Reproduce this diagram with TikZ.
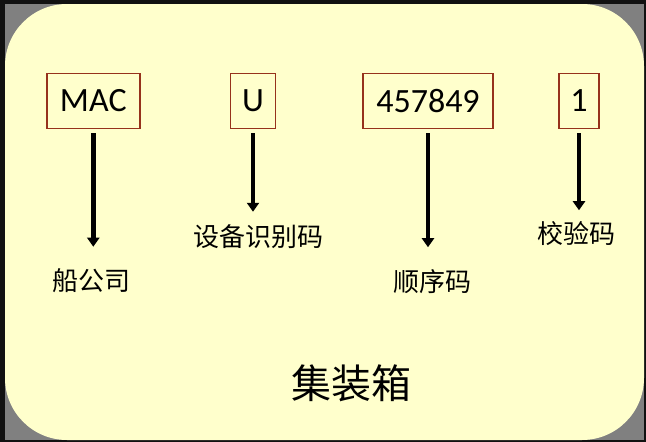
\documentclass[tikz,border=0pt]{standalone}
\usepackage{fontspec}
\setsansfont{Carlito}
\newfontfamily\cjkfont{Noto Sans CJK SC}
\usetikzlibrary{
  positioning,
  arrows.meta}
\definecolor{framecolor}{RGB}{17,17,17}
\definecolor{backcolor}{RGB}{128,128,128}
\definecolor{cardcolor}{RGB}{255,255,204}
\definecolor{codecolor}{RGB}{150,50,28}
\tikzset{
  %% codebox : one part of the container number
  codebox/.style={
    rectangle,
    draw=codecolor,
    line width=1.6pt,
    fill=cardcolor,
    minimum height=55pt,
    inner xsep=8pt,
    font=\sffamily\fontsize{34}{36}\selectfont,
    align=center
  },
  %% meaning : what the part stands for
  meaning/.style={
    inner sep=0pt,
    font=\cjkfont\fontsize{26}{28}\selectfont,
    align=center
  },
  %% pointer : arrow from the code to its meaning
  pointer/.style={
    line width=4.5pt,
    shorten <=4pt,
    -{Triangle[width=12pt,length=9pt]}
  }
}
\begin{document}
\begin{tikzpicture}
  [x=1pt,
  y=-1pt]
  \useasboundingbox (0,0) rectangle (646,442);

  %% Frame and card
  \fill [framecolor] (0,0) rectangle (646,442);
  \fill [backcolor] (5,4) rectangle (644,440);
  \fill [cardcolor, rounded corners=62pt] (5,4) rectangle (644,440);

  %% Code boxes
  \node (mac) [codebox, minimum width=93pt] at (93.3,100.8) {MAC};
  \node (u) [codebox, minimum width=45pt] at (253,100.8) {U};
  \node (serial) [codebox, minimum width=130pt] at (428,100.8) {457849};
  \node (check) [codebox, minimum width=40pt] at (579,100.8) {1};

  %% Meanings
  \node (owner) [meaning] at (91.5,281) {船公司};
  \node (category) [meaning] at (258,237) {设备识别码};
  \node (number) [meaning] at (432,281.5) {顺序码};
  \node (digit) [meaning] at (576,233.5) {校验码};

  %% Connections
  \draw [pointer, shorten >=22pt] (mac.south) -- (mac.south |- owner.north);
  \draw [pointer, shorten >=13pt] (u.south) -- (u.south |- category.north);
  \draw [pointer, shorten >=22pt] (serial.south) -- (serial.south |- number.north);
  \draw [pointer, shorten >=11pt] (check.south) -- (check.south |- digit.north);

  %% Title
  \node (container) [meaning, font=\cjkfont\fontsize{40}{42}\selectfont]
  at (351,383) {集装箱};

\end{tikzpicture}
\end{document}
